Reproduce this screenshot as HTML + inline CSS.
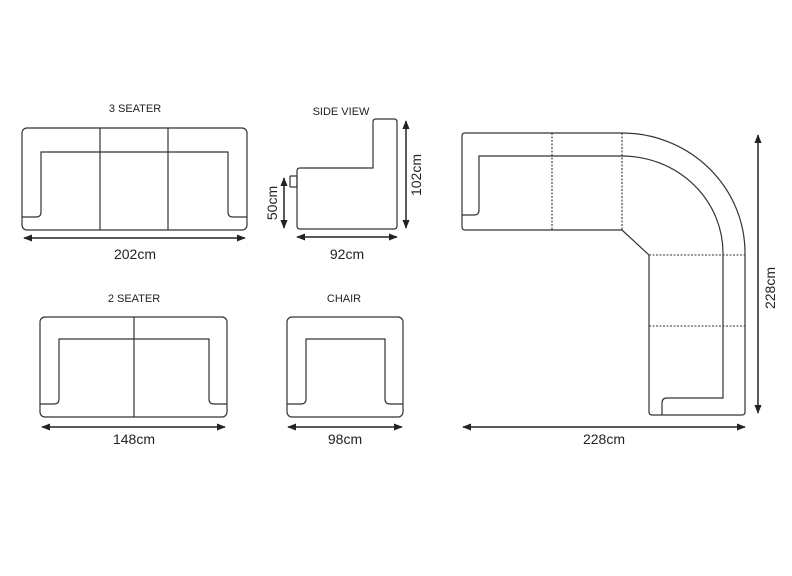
<!DOCTYPE html>
<html><head><meta charset="utf-8"><style>
html,body{margin:0;padding:0;background:#fff;}
svg{display:block;}
text{font-family:"Liberation Sans",sans-serif;fill:#222;}
</style></head><body>
<svg width="792" height="576" viewBox="0 0 792 576" xmlns="http://www.w3.org/2000/svg">
<defs>
<marker id="a" viewBox="0 0 10 10" refX="9" refY="5" markerWidth="9" markerHeight="9" orient="auto-start-reverse" markerUnits="userSpaceOnUse"><path d="M0,1 L10,5 L0,9 Z" fill="#222"/></marker>
</defs>
<g fill="none" stroke="#333" stroke-width="1.2">
<!-- 3 seater -->
<rect x="22" y="128" width="225" height="102" rx="5"/>
<path d="M22,217 H36 Q41,217 41,212 V152 H228 V212 Q228,217 233,217 H247"/>
<line x1="100" y1="128" x2="100" y2="230"/>
<line x1="168" y1="128" x2="168" y2="230"/>
<line x1="24" y1="238" x2="245" y2="238" stroke="#222" stroke-width="1.5" marker-start="url(#a)" marker-end="url(#a)"/>
<!-- side view -->
<path d="M297,171 Q297,168 300,168 H373 V122 Q373,119 376,119 H394 Q397,119 397,122 V226 Q397,229 394,229 H300 Q297,229 297,226 Z"/>
<rect x="290" y="176" width="7" height="11" rx="1"/>
<line x1="284" y1="178" x2="284" y2="228" stroke="#222" stroke-width="1.5" marker-start="url(#a)" marker-end="url(#a)"/>
<line x1="406" y1="121" x2="406" y2="228" stroke="#222" stroke-width="1.5" marker-start="url(#a)" marker-end="url(#a)"/>
<line x1="297" y1="237" x2="397" y2="237" stroke="#222" stroke-width="1.5" marker-start="url(#a)" marker-end="url(#a)"/>
<!-- 2 seater -->
<rect x="40" y="317" width="187" height="100" rx="5"/>
<path d="M40,404 H54 Q59,404 59,399 V339 H209 V399 Q209,404 214,404 H227"/>
<line x1="134" y1="317" x2="134" y2="417"/>
<line x1="42" y1="427" x2="225" y2="427" stroke="#222" stroke-width="1.5" marker-start="url(#a)" marker-end="url(#a)"/>
<!-- chair -->
<rect x="287" y="317" width="116" height="100" rx="5"/>
<path d="M287,404 H301 Q306,404 306,399 V339 H385 V399 Q385,404 390,404 H403"/>
<line x1="288" y1="427" x2="402" y2="427" stroke="#222" stroke-width="1.5" marker-start="url(#a)" marker-end="url(#a)"/>
<!-- corner -->
<path d="M622,133 H465 Q462,133 462,136 V227 Q462,230 465,230 H622 L649,255 V412 Q649,415 652,415 H742 Q745,415 745,412 V253 A123,120 0 0 0 622,133 Z"/>
<path d="M462,215 H474 Q479,215 479,210 V156 H622 A101,97 0 0 1 723,253 V398 H667 Q662,398 662,403 V415"/>
<g stroke-dasharray="2,1.5" stroke-width="1.1">
<line x1="552" y1="133" x2="552" y2="230"/>
<line x1="622" y1="133" x2="622" y2="230"/>
<line x1="649" y1="255" x2="745" y2="255"/>
<line x1="649" y1="326" x2="745" y2="326"/>
</g>
<line x1="758" y1="135" x2="758" y2="413" stroke="#222" stroke-width="1.5" marker-start="url(#a)" marker-end="url(#a)"/>
<line x1="463" y1="427" x2="745" y2="427" stroke="#222" stroke-width="1.5" marker-start="url(#a)" marker-end="url(#a)"/>
</g>
<text x="135" y="112" font-size="11" text-anchor="middle">3 SEATER</text>
<text x="341" y="115" font-size="11" text-anchor="middle">SIDE VIEW</text>
<text x="134" y="302" font-size="11" text-anchor="middle">2 SEATER</text>
<text x="344" y="302" font-size="11" text-anchor="middle">CHAIR</text>
<text x="135" y="259" font-size="14" text-anchor="middle">202cm</text>
<text x="347" y="259" font-size="14" text-anchor="middle">92cm</text>
<text x="134" y="444" font-size="14" text-anchor="middle">148cm</text>
<text x="345" y="444" font-size="14" text-anchor="middle">98cm</text>
<text x="604" y="444" font-size="14" text-anchor="middle">228cm</text>
<text transform="translate(277,203) rotate(-90)" font-size="14" text-anchor="middle">50cm</text>
<text transform="translate(421,175) rotate(-90)" font-size="14" text-anchor="middle">102cm</text>
<text transform="translate(775,288) rotate(-90)" font-size="14" text-anchor="middle">228cm</text>
</svg>
</body></html>
